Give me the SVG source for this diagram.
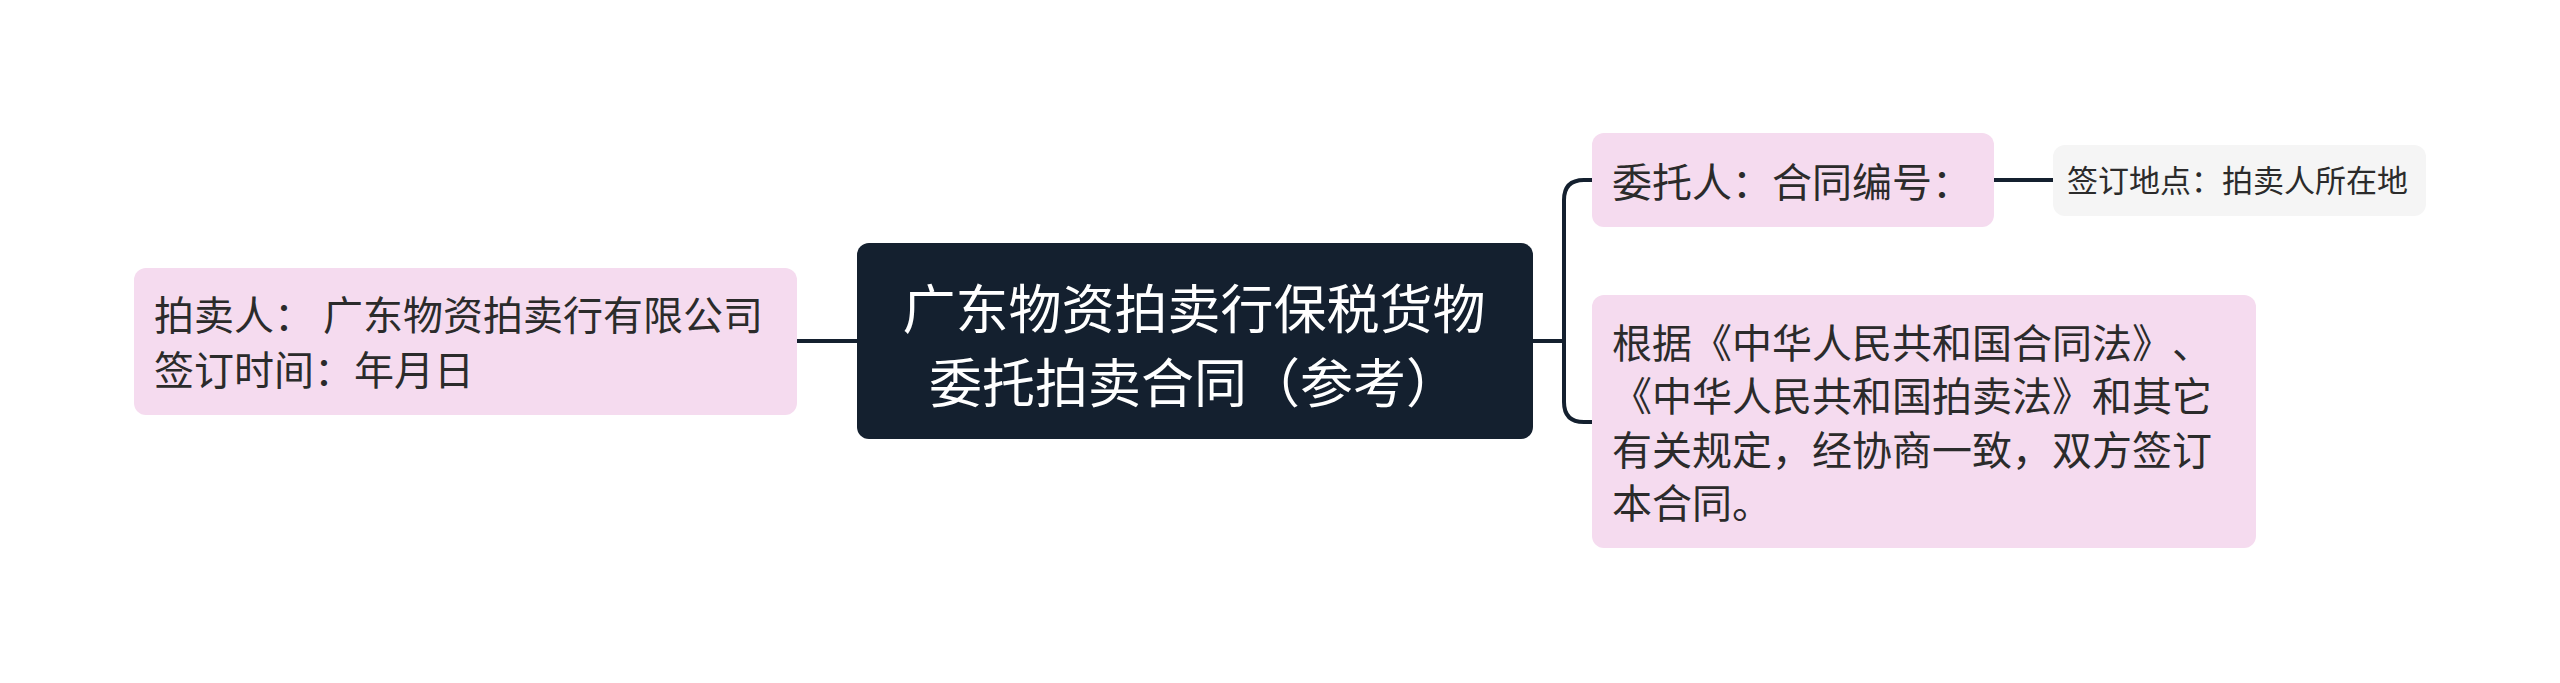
<svg xmlns="http://www.w3.org/2000/svg" width="2560" height="683" viewBox="0 0 2560 683">
<style>
text{font-family:"Noto Sans CJK SC","Noto Sans",sans-serif;text-spacing-trim:space-all;}
.pink{fill:#f5dbef;}
.gray{fill:#f5f5f5;}
.root{fill:#14202f;}
.t1{font-size:40px;fill:#2b2b2b;}
.t2{font-size:31px;fill:#2b2b2b;}
.tr{font-size:53px;fill:#ffffff;text-anchor:middle;}
.ln{fill:none;stroke:#14202f;stroke-width:4;stroke-linecap:round;}
</style>
<rect width="2560" height="683" fill="#ffffff"/>
<g id="connectors">
<path class="ln" d="M797,341 H857"/>
<path class="ln" d="M1533,341 H1564"/>
<path class="ln" d="M1592,180 H1584 Q1564,180 1564,200 V402 Q1564,422 1584,422 H1592"/>
<path class="ln" d="M1994,180 H2053"/>
</g>
<g id="node-root">
<rect class="root" x="857" y="243" width="676" height="196" rx="12"/>
<text class="tr" x="1194" y="329">广东物资拍卖行保税货物</text>
<text class="tr" x="1194" y="403">委托拍卖合同（参考）</text>
</g>
<g id="node-left">
<rect class="pink" x="134" y="268" width="663" height="147" rx="12"/>
<text class="t1" x="154" y="330" xml:space="preserve">拍卖人： 广东物资拍卖行有限公司</text>
<text class="t1" x="154" y="385">签订时间：年月日</text>
</g>
<g id="node-top">
<rect class="pink" x="1592" y="133" width="402" height="94" rx="12"/>
<text class="t1" x="1612" y="197">委托人：合同编号：</text>
</g>
<g id="node-place">
<rect class="gray" x="2053" y="145" width="373" height="71" rx="12"/>
<text class="t2" x="2067" y="192">签订地点：拍卖人所在地</text>
</g>
<g id="node-bottom">
<rect class="pink" x="1592" y="295" width="664" height="253" rx="12"/>
<text class="t1" x="1612" y="358">根据《中华人民共和国合同法》、</text>
<text class="t1" x="1612" y="411">《中华人民共和国拍卖法》和其它</text>
<text class="t1" x="1612" y="465">有关规定，经协商一致，双方签订</text>
<text class="t1" x="1612" y="518">本合同。</text>
</g>
</svg>
